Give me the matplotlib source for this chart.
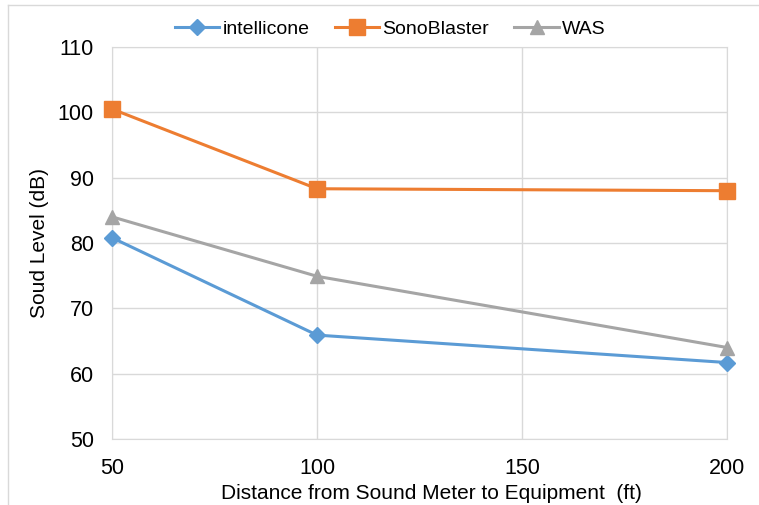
import matplotlib
matplotlib.use("Agg")
import matplotlib.pyplot as plt
from matplotlib.lines import Line2D

plt.rcParams['font.family'] = ['Liberation Sans', 'DejaVu Sans']

distance = [50, 100, 200]
intellicone = [80.8, 65.9, 61.7]
sonoblaster = [100.5, 88.3, 88.0]
was = [84.0, 74.9, 64.0]

x_ticks = [50, 100, 150, 200]
y_ticks = [50, 60, 70, 80, 90, 100, 110]

fig = plt.figure(figsize=(7.59, 5.05), dpi=100)
ax = fig.add_axes([0.1476, 0.1307, 0.958 - 0.1476, 0.907 - 0.1307])

ax.plot(distance, intellicone, color='#5b9bd5', lw=2.2, marker='D', ms=8.5,
        label='intellicone', clip_on=False, zorder=3)
ax.plot(distance, sonoblaster, color='#ed7d31', lw=2.2, marker='s', ms=11.5,
        label='SonoBlaster', clip_on=False, zorder=3)
ax.plot(distance, was, color='#a5a5a5', lw=2.2, marker='^', ms=10,
        label='WAS', clip_on=False, zorder=3)

ax.set_xlim(50, 200)
ax.set_ylim(50, 110)
ax.set_xticks(x_ticks)
ax.set_yticks(y_ticks)
ax.grid(True, color='#d9d9d9', lw=1)
ax.set_axisbelow(True)
for s in ax.spines.values():
    s.set_color('#d9d9d9')
ax.tick_params(length=0, labelsize=15.5, colors='#000000')
ax.tick_params(axis='x', pad=14)
ax.tick_params(axis='y', pad=13)

ax.set_xlabel('Distance from Sound Meter to Equipment  (ft)', fontsize=15)
ax.xaxis.set_label_coords(0.52, -0.115)
ax.set_ylabel('Soud Level (dB)', fontsize=15)
ax.yaxis.set_label_coords(-0.102, 0.5)

ax.legend(loc='center', bbox_to_anchor=(0.452, 1.045), ncol=3, frameon=False,
          fontsize=14, handlelength=2.3, columnspacing=1.3, handletextpad=0.15,
          borderaxespad=0)

# outer chart border (left and top only visible)
fig.add_artist(Line2D([8 / 759, 8 / 759], [0, 1 - 5 / 505], transform=fig.transFigure,
                      color='#d9d9d9', lw=1))
fig.add_artist(Line2D([8 / 759, 1], [1 - 5 / 505, 1 - 5 / 505], transform=fig.transFigure,
                      color='#d9d9d9', lw=1))

fig.savefig('out.png', dpi=100)
